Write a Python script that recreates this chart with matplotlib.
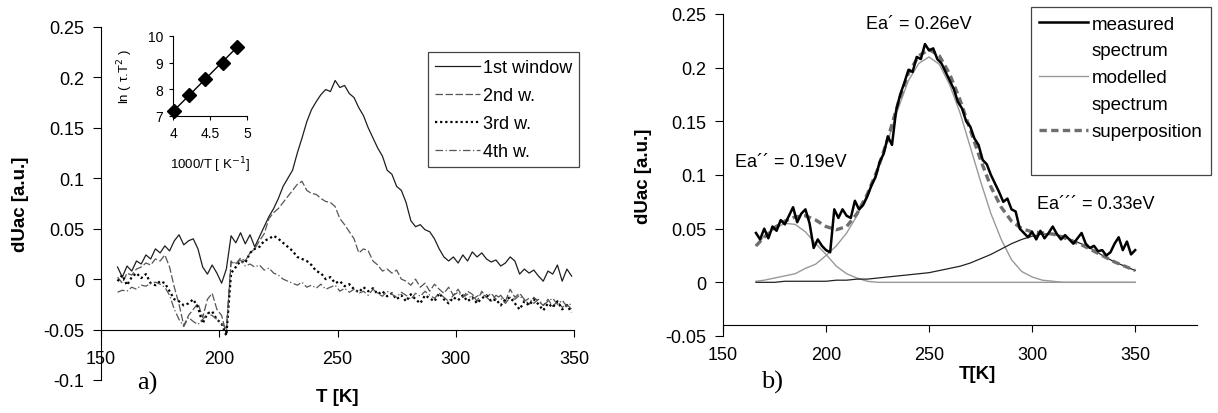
import numpy as np
import matplotlib
matplotlib.use('Agg')
import matplotlib.pyplot as plt
from matplotlib.lines import Line2D

plt.rcParams['font.family'] = ['Liberation Sans', 'DejaVu Sans']

# ---- data, panel a) ----
T_a = np.arange(157, 350, 2)
w1 = [0.012, 0.002, 0.013, 0.008, 0.018, 0.015, 0.024, 0.020, 0.030, 0.026,
      0.033, 0.028, 0.038, 0.044, 0.034, 0.038, 0.040, 0.030, 0.012, 0.005,
      0.014, 0.006, -0.004, 0.010, 0.043, 0.036, 0.046, 0.035, 0.044, 0.032,
      0.042, 0.052, 0.062, 0.070, 0.080, 0.092, 0.100, 0.108, 0.125, 0.140,
      0.156, 0.168, 0.176, 0.183, 0.188, 0.186, 0.197, 0.190, 0.192, 0.184,
      0.180, 0.170, 0.162, 0.150, 0.140, 0.130, 0.122, 0.108, 0.104, 0.092,
      0.088, 0.076, 0.058, 0.052, 0.054, 0.049, 0.047, 0.040, 0.030, 0.022,
      0.018, 0.022, 0.016, 0.024, 0.018, 0.027, 0.022, 0.026, 0.020, 0.017,
      0.019, 0.013, 0.016, 0.022, 0.018, 0.005, 0.010, 0.006, 0.009, 0.003,
      -0.002, 0.008, 0.005, 0.014, -0.002, 0.010, 0.003]
w2 = [0.002, -0.004, 0.006, 0.004, 0.010, 0.012, 0.016, 0.014, 0.020, 0.018,
      0.024, 0.012, -0.008, -0.025, -0.046, -0.036, -0.030, -0.024, -0.038, -0.020,
      -0.014, -0.030, -0.036, -0.054, 0.017, 0.015, 0.021, 0.018, 0.026, 0.030,
      0.038, 0.045, 0.060, 0.066, 0.070, 0.076, 0.082, 0.088, 0.094, 0.097,
      0.088, 0.085, 0.084, 0.080, 0.077, 0.076, 0.072, 0.060, 0.054, 0.047,
      0.040, 0.026, 0.030, 0.028, 0.018, 0.014, 0.008, 0.010, 0.006, 0.009,
      0.000, -0.002, -0.006, 0.000, -0.008, -0.004, -0.012, -0.005, -0.010, -0.014,
      -0.008, -0.016, -0.010, -0.018, -0.012, -0.015, -0.022, -0.012, -0.018, -0.014,
      -0.020, -0.016, -0.022, -0.010, -0.018, -0.014, -0.020, -0.025, -0.018, -0.022,
      -0.026, -0.020, -0.027, -0.022, -0.028, -0.025, -0.030]
w3 = [-0.002, 0.004, -0.006, 0.002, 0.006, 0.001, 0.005, -0.004, -0.006, -0.002,
      -0.004, -0.012, -0.020, -0.022, -0.026, -0.024, -0.020, -0.028, -0.044, -0.034,
      -0.032, -0.040, -0.044, -0.056, 0.006, 0.012, 0.018, 0.016, 0.026, 0.030,
      0.032, 0.038, 0.040, 0.043, 0.040, 0.036, 0.032, 0.028, 0.022, 0.020,
      0.018, 0.014, 0.008, 0.006, 0.000, 0.002, -0.004, -0.002, -0.007, -0.005,
      -0.010, -0.013, -0.008, -0.012, -0.009, -0.015, -0.012, -0.017, -0.014, -0.020,
      -0.016, -0.022, -0.015, -0.020, -0.024, -0.016, -0.019, -0.022, -0.014, -0.020,
      -0.024, -0.018, -0.021, -0.016, -0.022, -0.018, -0.024, -0.019, -0.016, -0.022,
      -0.020, -0.026, -0.020, -0.018, -0.024, -0.030, -0.022, -0.026, -0.020, -0.025,
      -0.031, -0.024, -0.028, -0.022, -0.030, -0.026, -0.033]
w4 = [-0.013, -0.011, -0.012, -0.008, -0.010, -0.006, -0.007, -0.004, -0.003, -0.005,
      -0.008, -0.016, -0.030, -0.040, -0.047, -0.038, -0.042, -0.045, -0.040, -0.034,
      -0.036, -0.040, -0.044, -0.049, 0.018, 0.016, 0.019, 0.013, 0.015, 0.012,
      0.014, 0.009, 0.011, 0.006, 0.004, 0.000, -0.002, -0.004, -0.006, -0.003,
      -0.008, -0.006, -0.009, -0.005, -0.010, -0.008, -0.006, -0.012, -0.009, -0.013,
      -0.010, -0.014, -0.012, -0.016, -0.010, -0.014, -0.017, -0.012, -0.015, -0.018,
      -0.013, -0.016, -0.020, -0.014, -0.017, -0.012, -0.016, -0.019, -0.014, -0.018,
      -0.022, -0.016, -0.013, -0.018, -0.015, -0.020, -0.017, -0.014, -0.018, -0.022,
      -0.016, -0.019, -0.024, -0.018, -0.020, -0.016, -0.022, -0.019, -0.024, -0.020,
      -0.026, -0.022, -0.019, -0.025, -0.021, -0.027, -0.024]
labels_a = ['1st window', '2nd w.', '3rd w.', '4th w.']

# inset: Arrhenius plot
inv_T = [4.02, 4.22, 4.43, 4.67, 4.87]
ln_tT2 = [7.2, 7.8, 8.4, 9.0, 9.6]

yticks_a = [-0.1, -0.05, 0, 0.05, 0.1, 0.15, 0.2, 0.25]
yticklabels_a = ['-0.1', '-0.05', '0', '0.05', '0.1', '0.15', '0.2', '0.25']
xticks = [150, 200, 250, 300, 350]

# ---- data, panel b) ----
T_m = np.arange(166, 351, 2)
measured = [0.046, 0.040, 0.050, 0.041, 0.052, 0.048, 0.058, 0.054, 0.062, 0.070,
            0.056, 0.064, 0.068, 0.055, 0.032, 0.040, 0.034, 0.030, 0.028, 0.068,
            0.060, 0.068, 0.062, 0.060, 0.076, 0.068, 0.072, 0.080, 0.090, 0.098,
            0.112, 0.120, 0.136, 0.128, 0.160, 0.175, 0.186, 0.198, 0.196, 0.210,
            0.208, 0.222, 0.216, 0.218, 0.208, 0.204, 0.196, 0.188, 0.180, 0.168,
            0.162, 0.150, 0.145, 0.134, 0.128, 0.114, 0.110, 0.100, 0.092, 0.084,
            0.075, 0.078, 0.068, 0.066, 0.050, 0.046, 0.042, 0.047, 0.040, 0.048,
            0.041, 0.046, 0.052, 0.045, 0.040, 0.044, 0.040, 0.036, 0.041, 0.046,
            0.036, 0.032, 0.034, 0.029, 0.030, 0.025, 0.028, 0.036, 0.042, 0.030,
            0.038, 0.026, 0.030]
T_s = [166, 170, 175, 180, 185, 190, 195, 200, 205, 210, 215, 220, 225, 230,
       235, 240, 245, 250, 255, 260, 265, 270, 275, 280, 285, 290, 295, 300,
       305, 310, 315, 320, 325, 330, 335, 340, 345, 350]
superpos = [0.034, 0.042, 0.051, 0.057, 0.061, 0.062, 0.058, 0.052, 0.049, 0.052,
            0.064, 0.082, 0.105, 0.134, 0.167, 0.195, 0.211, 0.217, 0.211, 0.194,
            0.170, 0.142, 0.114, 0.089, 0.070, 0.057, 0.050, 0.047, 0.046, 0.045,
            0.042, 0.038, 0.034, 0.029, 0.024, 0.019, 0.015, 0.011]
peak1 = [0.034, 0.043, 0.050, 0.055, 0.054, 0.047, 0.036, 0.026, 0.015, 0.008,
         0.004, 0.001, 0, 0, 0, 0, 0, 0, 0, 0, 0, 0, 0, 0, 0, 0, 0, 0,
         0, 0, 0, 0, 0, 0, 0, 0, 0, 0]
peak2 = [0.001, 0.002, 0.004, 0.006, 0.008, 0.013, 0.017, 0.025, 0.034, 0.046,
         0.062, 0.082, 0.104, 0.132, 0.162, 0.188, 0.204, 0.210, 0.203, 0.184,
         0.158, 0.126, 0.094, 0.064, 0.040, 0.021, 0.010, 0.005, 0.002, 0.001,
         0, 0, 0, 0, 0, 0, 0, 0]
peak3 = [0.000, 0.000, 0.000, 0.001, 0.001, 0.001, 0.001, 0.001, 0.002, 0.002,
         0.003, 0.003, 0.004, 0.005, 0.006, 0.007, 0.008, 0.009, 0.011, 0.013,
         0.015, 0.018, 0.022, 0.026, 0.031, 0.036, 0.040, 0.043, 0.045, 0.045,
         0.043, 0.039, 0.035, 0.030, 0.024, 0.019, 0.015, 0.011]
yticks_b = [-0.05, 0, 0.05, 0.1, 0.15, 0.2, 0.25]
yticklabels_b = ['-0.05', '0', '0.05', '0.1', '0.15', '0.2', '0.25']
energies = ['Ea\u00b4 = 0.26eV', 'Ea\u00b4\u00b4 = 0.19eV', 'Ea\u00b4\u00b4\u00b4 = 0.33eV']

W, H = 1218, 414
fig = plt.figure(figsize=(W / 100, H / 100), dpi=100)

def box(l, t, r, b):
    return [l / W, 1 - b / H, (r - l) / W, (b - t) / H]

FS = 13      # tick labels
FL = 13.5    # legends, axis labels

# ---------- panel a ----------
ax = fig.add_axes(box(101, 28, 574, 381))
ax.plot(T_a, w1, color='#1e1e1e', lw=0.9)
ax.plot(T_a, w2, color='#555555', lw=0.9, dashes=(6, 2))
ax.plot(T_a, w3, color='black', lw=1.6, dashes=(1, 1.3))
ax.plot(T_a, w4, color='#555555', lw=0.9, dashes=(6, 2, 1, 2))
ax.set_xlim(150, 350)
ax.set_ylim(-0.1, 0.25)
ax.spines['top'].set_visible(False)
ax.spines['right'].set_visible(False)
ax.spines['bottom'].set_position(('data', -0.05))
ax.set_xticks(xticks)
ax.set_yticks(yticks_a)
ax.set_yticklabels(yticklabels_a)
ax.tick_params(axis='x', direction='out', length=5, pad=10, labelsize=FS)
ax.tick_params(axis='y', direction='out', length=6, pad=6, labelsize=FS)
ax.set_ylabel('dUac [a.u.]', fontsize=FL, fontweight='bold')
ax.yaxis.set_label_coords(-0.152, 0.5)
fig.text(337 / W, 1 - 398 / H, 'T [K]', fontsize=FL, fontweight='bold',
         ha='center', va='center')
fig.text(147 / W, 1 - 383 / H, 'a)', fontsize=19, family='Liberation Serif',
         ha='center', va='center')

h_a = [Line2D([], [], color='#1e1e1e', lw=0.9),
       Line2D([], [], color='#555555', lw=0.9, dashes=(6, 2)),
       Line2D([], [], color='black', lw=1.6, dashes=(1, 1.3)),
       Line2D([], [], color='#555555', lw=0.9, dashes=(6, 2, 1, 2))]
leg = fig.legend(h_a, labels_a, loc='upper left',
                 bbox_to_anchor=(428 / W, 1 - 53 / H), fontsize=FS,
                 handlelength=2.5, handletextpad=0.15, labelspacing=0.62,
                 borderpad=0.38, borderaxespad=0, fancybox=False, framealpha=1,
                 edgecolor='#444444')
leg.get_frame().set_linewidth(0.9)

# inset
axi = fig.add_axes(box(173, 37, 247, 117))
coef = np.polyfit(inv_T, ln_tT2, 1)
axi.plot(inv_T, np.polyval(coef, inv_T), color='black', lw=1)
axi.plot(inv_T, ln_tT2, 'D', color='black', ms=7.5, clip_on=False)
axi.set_xlim(4, 5)
axi.set_ylim(7, 10)
axi.set_xticks([4, 4.5, 5])
axi.set_xticklabels(['4', '4.5', '5'])
axi.set_yticks([7, 8, 9, 10])
axi.spines['top'].set_visible(False)
axi.spines['right'].set_visible(False)
axi.patch.set_alpha(0)
axi.tick_params(direction='out', length=3, labelsize=10, pad=4)
axi.set_ylabel('ln ( \u03c4.T$^2$ )', fontsize=9.5)
axi.set_xlabel('1000/T [ K$^{-1}$]', fontsize=9.5)
axi.yaxis.set_label_coords(-0.51, 0.5)
axi.xaxis.set_label_coords(0.5, -0.48)

# ---------- panel b ----------
bx = fig.add_axes(box(723, 15, 1197, 337))
bx.plot(T_s, peak1, color='#999999', lw=1)
bx.plot(T_s, peak2, color='#999999', lw=1)
bx.plot(T_s, peak3, color='#222222', lw=0.9)
bx.plot(T_s, superpos, color='#6e6e6e', lw=2.4, dashes=(2.2, 1.3))
bx.plot(T_m, measured, color='black', lw=1.8)
bx.set_xlim(150, 380)
bx.set_ylim(-0.05, 0.25)
bx.spines['top'].set_visible(False)
bx.spines['right'].set_visible(False)
bx.spines['bottom'].set_position(('data', -0.04))
bx.set_xticks(xticks)
bx.set_yticks(yticks_b)
bx.set_yticklabels(yticklabels_b)
bx.tick_params(axis='x', direction='out', length=5, pad=10, labelsize=FS)
bx.tick_params(axis='y', direction='out', length=6, pad=6, labelsize=FS)
bx.set_ylabel('dUac [a.u.]', fontsize=FL, fontweight='bold')
bx.yaxis.set_label_coords(-0.150, 0.5)
fig.text(977 / W, 1 - 375 / H, 'T[K]', fontsize=FL, fontweight='bold',
         ha='center', va='center')
fig.text(772 / W, 1 - 382 / H, 'b)', fontsize=19, family='Liberation Serif',
         ha='center', va='center')

bx.text(219.5, 0.241, energies[0], fontsize=FS, va='center')
bx.text(155.8, 0.113, energies[1], fontsize=FS, va='center')
bx.text(302.4, 0.073, energies[2], fontsize=FS, va='center')

blank = Line2D([], [], color='none')
h_b = [Line2D([], [], color='black', lw=1.8), blank,
       Line2D([], [], color='#999999', lw=1), blank,
       Line2D([], [], color='#6e6e6e', lw=2.4, dashes=(2.2, 1.3)), blank]
lab_b = ['measured', 'spectrum', 'modelled', 'spectrum', 'superposition', ' ']
leg2 = fig.legend(h_b, lab_b, loc='upper left',
                  bbox_to_anchor=(1031 / W, 1 - 8 / H), fontsize=FL,
                  handlelength=2.6, handletextpad=0.2, labelspacing=0.52,
                  borderpad=0.45, borderaxespad=0, fancybox=False, framealpha=1,
                  edgecolor='#444444')
leg2.get_frame().set_linewidth(0.9)

fig.savefig('out.png', dpi=100)
